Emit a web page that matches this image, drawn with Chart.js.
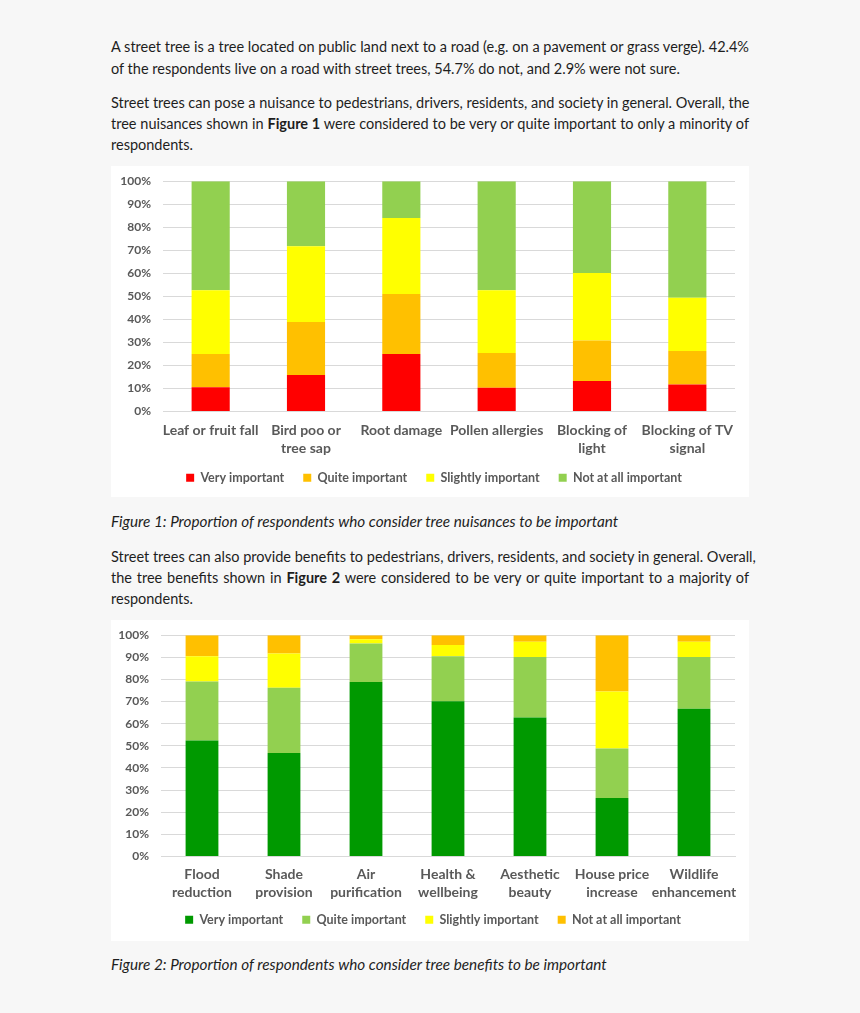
<!DOCTYPE html>
<html>
<head>
<meta charset="utf-8">
<script src="https://cdn.jsdelivr.net/npm/chart.js@4.4.1/dist/chart.umd.min.js"></script>
<style>
  body { margin: 0; background: #f7f7f7; font-family: Lato, sans-serif; color: #1e1e1e; }
  .page { position: relative; width: 860px; height: 1013px; overflow: hidden; }
  .ln { position: absolute; left: 111px; width: 638px; font-size: 14.5px; line-height: 22px; white-space: nowrap; }
  .j { text-align: justify; text-align-last: justify; }
  .cap { font-style: italic; font-size: 15.3px; }
  .box { position: absolute; left: 111px; width: 638px; background: #fff; }
</style>
</head>
<body>
<div class="page">
  <div class="ln j" style="top:36px">A street tree is a tree located on public land next to a road (e.g. on a pavement or grass verge). 42.4%</div>
  <div class="ln" style="top:58px">of the respondents live on a road with street trees, 54.7% do not, and 2.9% were not sure.</div>

  <div class="ln j" style="top:92px">Street trees can pose a nuisance to pedestrians, drivers, residents, and society in general. Overall, the</div>
  <div class="ln j" style="top:113px">tree nuisances shown in <b>Figure 1</b> were considered to be very or quite important to only a minority of</div>
  <div class="ln" style="top:134px">respondents.</div>

  <div class="box" style="top:166px;height:331px"><canvas id="chart1" width="638" height="331"></canvas></div>

  <div class="ln cap" style="top:510px">Figure 1: Proportion of respondents who consider tree nuisances to be important</div>

  <div class="ln j" style="top:546px">Street trees can also provide benefits to pedestrians, drivers, residents, and society in general. Overall,</div>
  <div class="ln j" style="top:567px">the tree benefits shown in <b>Figure 2</b> were considered to be very or quite important to a majority of</div>
  <div class="ln" style="top:588px">respondents.</div>

  <div class="box" style="top:620px;height:321px"><canvas id="chart2" width="638" height="321"></canvas></div>

  <div class="ln cap" style="top:953px">Figure 2: Proportion of respondents who consider tree benefits to be important</div>
</div>

<script>
// Figure 1 - nuisances (% of respondents)
const nuisanceLabels = [['Leaf or fruit fall'], ['Bird poo or', 'tree sap'], ['Root damage'], ['Pollen allergies'], ['Blocking of', 'light'], ['Blocking of TV', 'signal']];
const nuisVery = [10.5, 15.9, 25.0, 10.3, 13.2, 11.7];
const nuisQuite = [14.5, 23.0, 26.0, 15.1, 17.6, 14.6];
const nuisSlightly = [27.7, 32.8, 33.0, 27.3, 29.3, 23.1];
const nuisNot = [47.3, 28.3, 16.0, 47.3, 39.9, 50.6];

// Figure 2 - benefits (% of respondents)
const benefitLabels = [['Flood', 'reduction'], ['Shade', 'provision'], ['Air', 'purification'], ['Health &', 'wellbeing'], ['Aesthetic', 'beauty'], ['House price', 'increase'], ['Wildlife', 'enhancement']];
const benVery = [52.4, 46.8, 78.8, 70.1, 62.8, 26.4, 66.8];
const benQuite = [26.7, 29.5, 17.4, 20.4, 27.3, 22.4, 23.3];
const benSlightly = [11.4, 15.4, 2.0, 5.1, 6.9, 25.8, 6.9];
const benNot = [9.5, 8.3, 1.8, 4.4, 3.0, 25.4, 3.0];

const grey = '#595959';
const gridCol = '#d9d9d9';

// nudge the legend after layout (closer to the labels, a bit to the right)
const legendNudge = {
  id: 'legendNudge',
  afterLayout(chart, args, opts) {
    const lg = chart.legend;
    if (!lg) return;
    lg.top += opts.dy; lg.bottom += opts.dy;
    lg.left += opts.dx; lg.right += opts.dx;
  }
};

function makeOptions(axisWidth, xPad, xHeight, pad, nudge) {
  return {
    responsive: false,
    animation: false,
    layout: { padding: pad },
    scales: {
      x: {
        stacked: true,
        grid: { display: false, drawTicks: false },
        border: { color: gridCol },
        ticks: { color: grey, font: { family: 'Lato', size: 14, weight: 'bold', lineHeight: 1.3 }, padding: xPad, maxRotation: 0, autoSkip: false },
        afterFit: s => { s.height = xHeight; }
      },
      y: {
        stacked: true,
        min: 0, max: 100,
        grid: { color: gridCol, drawTicks: false },
        border: { display: false },
        ticks: { stepSize: 10, color: grey, font: { family: 'Lato', size: 12, weight: 'bold' }, padding: 8,
                 callback: v => v + '%\u2004' },
        afterFit: s => { s.width = axisWidth; }
      }
    },
    plugins: {
      legend: {
        position: 'bottom',
        labels: { boxWidth: 8, boxHeight: 8, padding: 19, color: grey, font: { family: 'Lato', size: 12.5, weight: 'bold' } }
      },
      legendNudge: nudge,
      tooltip: { enabled: false }
    }
  };
}

function ds(label, data, color) {
  return { label: label, data: data, backgroundColor: color, borderWidth: 0, barPercentage: 0.4, categoryPercentage: 1 };
}

new Chart(document.getElementById('chart1'), {
  type: 'bar',
  data: {
    labels: nuisanceLabels,
    datasets: [
      ds('Very important', nuisVery, '#ff0000'),
      ds('Quite important', nuisQuite, '#ffc000'),
      ds('Slightly important', nuisSlightly, '#ffff00'),
      ds('Not at all important', nuisNot, '#92d050')
    ]
  },
  options: makeOptions(52, 10, 44, { top: 0, right: 14, bottom: 0, left: 0 }, { dx: 11, dy: -3 }),
  plugins: [legendNudge]
});

new Chart(document.getElementById('chart2'), {
  type: 'bar',
  data: {
    labels: benefitLabels,
    datasets: [
      ds('Very important', benVery, '#009900'),
      ds('Quite important', benQuite, '#92d050'),
      ds('Slightly important', benSlightly, '#ffff00'),
      ds('Not at all important', benNot, '#ffc000')
    ]
  },
  options: makeOptions(50, 9, 43, { top: 0, right: 14, bottom: 0, left: 0 }, { dx: 10, dy: -5 }),
  plugins: [legendNudge]
});
</script>
</body>
</html>
